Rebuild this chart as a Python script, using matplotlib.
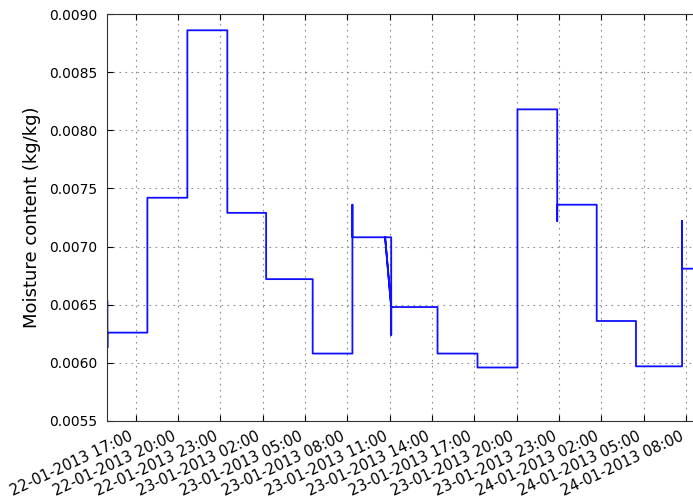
import matplotlib
matplotlib.use("Agg")
import matplotlib.pyplot as plt
import matplotlib.dates as mdates
from datetime import datetime

# sample times (irregular, repeated times give the vertical steps)
times = [
    "22-01-2013 15:00", "22-01-2013 15:00", "22-01-2013 15:00",
    "22-01-2013 17:50", "22-01-2013 17:50",
    "22-01-2013 20:40", "22-01-2013 20:40",
    "22-01-2013 23:30", "22-01-2013 23:30",
    "23-01-2013 02:15", "23-01-2013 02:15",
    "23-01-2013 05:33", "23-01-2013 05:33",
    "23-01-2013 08:22", "23-01-2013 08:22", "23-01-2013 08:22",
    "23-01-2013 11:07", "23-01-2013 11:07", "23-01-2013 11:07",
    "23-01-2013 10:41", "23-01-2013 11:07",
    "23-01-2013 14:24", "23-01-2013 14:24",
    "23-01-2013 17:14", "23-01-2013 17:14",
    "23-01-2013 20:04", "23-01-2013 20:04",
    "23-01-2013 22:53", "23-01-2013 22:53", "23-01-2013 22:53",
    "24-01-2013 01:41", "24-01-2013 01:41",
    "24-01-2013 04:28", "24-01-2013 04:28",
    "24-01-2013 07:44", "24-01-2013 07:44", "24-01-2013 07:44",
    "24-01-2013 09:00",
]

# moisture content (kg/kg)
moisture = [
    0.00653, 0.00613, 0.00626,
    0.00626, 0.00742,
    0.00742, 0.00886,
    0.00886, 0.00729,
    0.00729, 0.00672,
    0.00672, 0.00608,
    0.00608, 0.00736, 0.00708,
    0.00708, 0.00624, 0.00648,
    0.00708, 0.00648,
    0.00648, 0.00608,
    0.00608, 0.00596,
    0.00596, 0.00818,
    0.00818, 0.00722, 0.00736,
    0.00736, 0.00636,
    0.00636, 0.00597,
    0.00597, 0.00722, 0.00681,
    0.00681,
]

t = [datetime.strptime(s, "%d-%m-%Y %H:%M") for s in times]

fig = plt.figure(figsize=(6.93, 5.0), dpi=100)
ax = fig.add_axes([0.155, 0.158, 0.855, 0.814])

ax.plot(t, moisture, color="#1010ff", lw=1.3)

ax.set_xlim(datetime(2013, 1, 22, 15, 0), datetime(2013, 1, 24, 9, 0))
ax.set_ylim(0.0055, 0.0090)
ax.set_yticks([0.0055, 0.0060, 0.0065, 0.0070, 0.0075, 0.0080, 0.0085, 0.0090])
ax.yaxis.set_major_formatter(matplotlib.ticker.FormatStrFormatter("%.4f"))

ax.xaxis.set_major_locator(mdates.HourLocator(byhour=range(2, 24, 3)))
ax.xaxis.set_major_formatter(mdates.DateFormatter("%d-%m-%Y %H:%M"))
for lab in ax.get_xticklabels():
    lab.set_rotation(25)
    lab.set_ha("right")

ax.tick_params(direction="in", top=True, right=True, length=4)
ax.tick_params(axis="y", labelsize=10, pad=7)
ax.tick_params(axis="x", labelsize=10.6, pad=5.5)
ax.grid(True, color="0.55", linestyle=(0, (1.5, 3.9)), lw=0.8)
ax.set_ylabel("Moisture content (kg/kg)", fontsize=13, labelpad=6)

for sp in ax.spines.values():
    sp.set_color("0.2")

fig.savefig("out.png", dpi=100)
